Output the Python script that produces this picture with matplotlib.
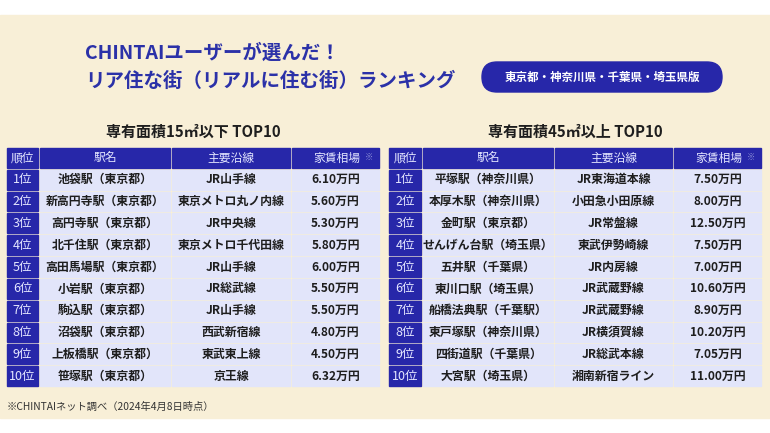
#!/usr/bin/env python3
"""
CHINTAI ranking tables drawn with matplotlib
"""

import matplotlib.pyplot as plt
from matplotlib.patches import Rectangle, FancyBboxPatch

plt.rcParams['font.family'] = ['Noto Sans CJK JP', 'DejaVu Sans']

# Data
headers = ['順位', '駅名', '主要沿線', '家賃相場']
ranks = ['1位', '2位', '3位', '4位', '5位', '6位', '7位', '8位', '9位', '10位']

small_names = ['池袋駅（東京都）', '新高円寺駅（東京都）', '高円寺駅（東京都）', '北千住駅（東京都）',
               '高田馬場駅（東京都）', '小岩駅（東京都）', '駒込駅（東京都）', '沼袋駅（東京都）',
               '上板橋駅（東京都）', '笹塚駅（東京都）']
small_lines = ['JR山手線', '東京メトロ丸ノ内線', 'JR中央線', '東京メトロ千代田線', 'JR山手線',
               'JR総武線', 'JR山手線', '西武新宿線', '東武東上線', '京王線']
small_rent = [6.10, 5.60, 5.30, 5.80, 6.00, 5.50, 5.50, 4.80, 4.50, 6.32]

large_names = ['平塚駅（神奈川県）', '本厚木駅（神奈川県）', '金町駅（東京都）', 'せんげん台駅（埼玉県）',
               '五井駅（千葉県）', '東川口駅（埼玉県）', '船橋法典駅（千葉駅）', '東戸塚駅（神奈川県）',
               '四街道駅（千葉県）', '大宮駅（埼玉県）']
large_lines = ['JR東海道本線', '小田急小田原線', 'JR常盤線', '東武伊勢崎線', 'JR内房線',
               'JR武蔵野線', 'JR武蔵野線', 'JR横須賀線', 'JR総武本線', '湘南新宿ライン']
large_rent = [7.50, 8.00, 12.50, 7.50, 7.00, 10.60, 8.90, 10.20, 7.05, 11.00]

BLUE = '#2727a9'
TITLE_BLUE = '#2b31a8'
CELL = '#e2e5fa'
BEIGE = '#f8efd7'
HEAD_TXT = '#e4e6ff'
TXT = '#1e1e1e'

fig = plt.figure(figsize=(7.7, 4.33), dpi=100)
ax = fig.add_axes([0, 0, 1, 1])
ax.set_xlim(0, 770)
ax.set_ylim(433, 0)
ax.axis('off')

ax.add_patch(Rectangle((0, 15), 770, 403, color=BEIGE, zorder=0))

# Titles
ax.text(85, 53, 'CHINTAIユーザーが選んだ！', fontsize=14, fontweight='bold',
        color=TITLE_BLUE, va='center', ha='left')
ax.text(85, 81, 'リア住な街（リアルに住む街）ランキング', fontsize=14, fontweight='bold',
        color=TITLE_BLUE, va='center', ha='left')

ax.add_patch(FancyBboxPatch((482, 62), 240, 30,
                            boxstyle='round,pad=0,rounding_size=15',
                            mutation_aspect=1, color=BLUE, zorder=1))
ax.text(602, 77, '東京都・神奈川県・千葉県・埼玉県版', fontsize=8.3, fontweight='bold',
        color='white', va='center', ha='center', zorder=2)


def draw_table(cols, title, names, lines, rent):
    top = 148
    pitch = (388 - 148) / 11
    gap = 2
    x_mid = (cols[0][0] + cols[-1][1]) / 2
    ax.text(x_mid, 132, title, fontsize=10.8, fontweight='bold', color=TXT,
            va='center', ha='center')
    for r in range(11):
        y0 = top + r * pitch
        for c, (x0, x1) in enumerate(cols):
            dark = (r == 0) or (c == 0)
            ax.add_patch(Rectangle((x0, y0), x1 - x0, pitch - gap,
                                   color=BLUE if dark else CELL, zorder=1))
            yc = y0 + (pitch - gap) / 2
            xc = (x0 + x1) / 2
            if r == 0:
                if c == 3:
                    ax.text(xc + 1, yc, headers[c], fontsize=8.5, color=HEAD_TXT,
                            va='center', ha='center', zorder=2)
                    ax.text(x1 - 10, yc, '※', fontsize=6, color='#8f93d8',
                            va='center', ha='center', zorder=2)
                else:
                    ax.text(xc, yc, headers[c], fontsize=8.5, color=HEAD_TXT,
                            va='center', ha='center', zorder=2)
            elif c == 0:
                ax.text(xc, yc, ranks[r - 1], fontsize=9, color=HEAD_TXT,
                        va='center', ha='center', zorder=2)
            else:
                val = [names, lines, [f'{v:.2f}万円' for v in rent]][c - 1][r - 1]
                ax.text(xc, yc, val, fontsize=8.6, fontweight='bold', color=TXT,
                        va='center', ha='center', zorder=2)


draw_table([(7, 38), (40, 170), (172, 290), (292, 379)],
           '専有面積15㎡以下 TOP10', small_names, small_lines, small_rent)
draw_table([(389, 421), (423, 553), (555, 672), (674, 761)],
           '専有面積45㎡以上 TOP10', large_names, large_lines, large_rent)

ax.text(7, 407, '※CHINTAIネット調べ（2024年4月8日時点）', fontsize=7.4, color='#333333',
        va='center', ha='left')

fig.savefig('out.png', dpi=100)
